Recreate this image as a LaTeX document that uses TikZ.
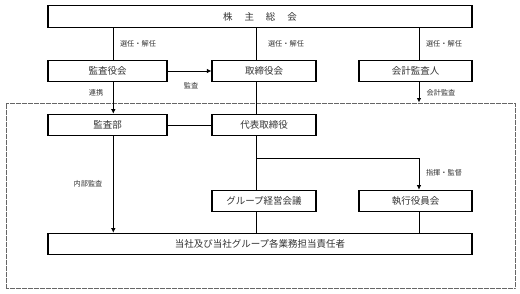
\documentclass[tikz,border=0pt]{standalone}
\usepackage{fontspec}
\newfontfamily\cjk{Noto Sans CJK JP}
\usetikzlibrary{arrows.meta,calc}
\begin{document}
\begin{tikzpicture}[x=1pt,y=-1pt,
  orgbox/.style={draw=black,line width=1.1pt,fill=white,minimum height=21.5pt,inner sep=0pt,
    font=\cjk\fontsize{9.5}{11}\selectfont,text=black!80},
  conn/.style={line width=0.8pt,draw=black},
  arr/.style={conn,-{Latex[length=4.5pt,width=4.5pt]}},
  lbl/.style={font=\cjk\fontsize{7.2}{9}\selectfont,text=black!80,inner sep=0pt}]
\useasboundingbox (0,0) rectangle (520,293);
% dotted scope
\node[draw=black!60,dash pattern=on 0.7pt off 0.5pt,line width=1pt,minimum width=509pt,minimum height=185pt,inner sep=0pt] (scope) at (260.5,195.5) {};
% nodes
\node[orgbox,minimum width=424pt] (top) at (260,16.5) {株\hspace{12pt}主\hspace{12pt}総\hspace{12pt}会};
\node[orgbox,minimum width=119pt] (kyk) at (107.5,71) {監査役会};
\node[orgbox,minimum width=104pt] (tyk) at (264,71) {取締役会};
\node[orgbox,minimum width=113pt] (kkn) at (415.5,71) {会計監査人};
\node[orgbox,minimum width=119pt] (ksb) at (107.5,125) {監査部};
\node[orgbox,minimum width=104pt] (dht) at (264,125) {代表取締役};
\node[orgbox,minimum width=104pt] (grp) at (264,201) {グループ経営会議};
\node[orgbox,minimum width=113pt] (sky) at (415.5,201) {執行役員会};
\node[orgbox,minimum width=424pt] (bot) at (260,244) {当社及び当社グループ各業務担当責任者};
% column coordinates
\coordinate (xa) at (113.3,0);
\coordinate (xb) at (256,0);
\coordinate (xc) at (419,0);
\coordinate (br) at (256,158);
\coordinate (brr) at (419,158);
% connectors
\draw[conn] (top.south -| xa) -- (kyk.north -| xa);
\draw[arr] (kyk.south -| xa) -- (ksb.north -| xa);
\draw[arr] (ksb.south -| xa) -- (bot.north -| xa);
\draw[conn] (top.south -| xb) -- (tyk.north -| xb);
\draw[conn] (tyk.south -| xb) -- (dht.north -| xb);
\draw[conn] (dht.south -| xb) -- (grp.north -| xb);
\draw[conn] (grp.south -| xb) -- (bot.north -| xb);
\draw[conn] (top.south -| xc) -- (kkn.north -| xc);
\draw[arr] (kkn.south -| xc) -- (scope.north -| xc);
\draw[arr] (br) -- (brr) -- (sky.north -| xc);
\draw[conn] (sky.south -| xc) -- (bot.north -| xc);
\draw[arr] (kyk.east) -- (tyk.west);
\draw[conn] (ksb.east) -- (dht.west);
% labels
\node[lbl] (l1) at (138,44) {選任・解任};
\node[lbl] (l2) at (286,44) {選任・解任};
\node[lbl] (l3) at (444,44) {選任・解任};
\node[lbl] (l4) at (96,93) {連携};
\node[lbl] (l5) at (191,86) {監査};
\node[lbl] (l6) at (441,92.5) {会計監査};
\node[lbl] (l7) at (444,173) {指揮・監督};
\node[lbl] (l8) at (88,184) {内部監査};
\end{tikzpicture}
\end{document}
